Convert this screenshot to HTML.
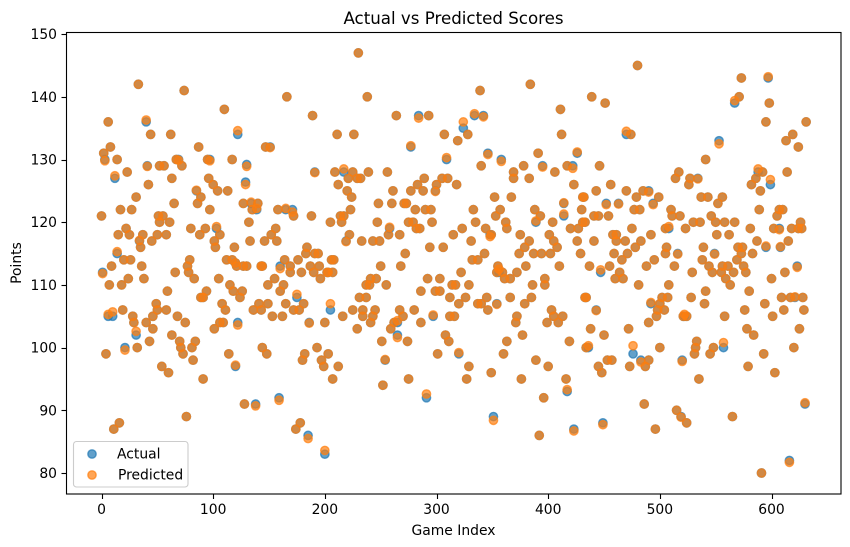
<!DOCTYPE html>
<html lang="en">
<head>
<meta charset="utf-8">
<title>Actual vs Predicted Scores</title>
<style>
html,body{margin:0;padding:0;background:#fff;width:850px;height:547px;overflow:hidden}
svg{display:block}
text{font-family:"DejaVu Sans","Liberation Sans",sans-serif;fill:#000}
</style>
</head>
<body>
<svg id="chart" xmlns="http://www.w3.org/2000/svg" width="850" height="547" viewBox="0 0 850 547">
<text x="453.5" y="24" font-size="16.67" text-anchor="middle">Actual vs Predicted Scores</text>
<g id="marks"></g>
<rect x="66.5" y="32.5" width="774.5" height="461.5" fill="none" stroke="#000" stroke-width="1.1"/>
<g id="x-axis"></g>
<g id="y-axis"></g>
<text x="453.5" y="535" font-size="13.89" text-anchor="middle">Game Index</text>
<text transform="translate(21,263) rotate(-90)" font-size="13.89" text-anchor="middle">Points</text>
<g>
<rect x="73.5" y="441.5" width="114.5" height="45.5" rx="3" fill="#fff" fill-opacity="0.8" stroke="#ccc" stroke-width="1.1"/>
<circle cx="92" cy="454" r="4.17" fill="#1f77b4" fill-opacity="0.7" stroke="#1f77b4" stroke-opacity="0.7" stroke-width="1.39"/>
<text x="117" y="458.5" font-size="13.89">Actual</text>
<circle cx="92" cy="475" r="4.17" fill="#ff7f0e" fill-opacity="0.7" stroke="#ff7f0e" stroke-opacity="0.7" stroke-width="1.39"/>
<text x="118" y="479.5" font-size="13.89">Predicted</text>
</g>
</svg>
<script>
const games = [
33,74,110,166,189,6,40,44,62,122,
8,2,3,14,87,147,151,41,52,56,
67,69,72,95,97,117,130,191,12,23,
63,42,96,100,104,113,129,85,89,86,
31,65,17,27,0,97,127,134,140,135,
139,158,165,171,172,188,51,55,52,61,
132,22,15,25,37,50,58,80,93,88,
103,106,101,102,119,34,45,35,133,146,
152,156,157,14,20,26,9,36,79,77,
112,117,120,127,130,144,160,164,169,176,
184,183,191,194,187,195,206,208,
1,7,18,24,38,66,78,83,105,121,
143,169,179,190,196,202,115,118,126,124,
149,155,163,160,175,59,94,91,89,49,
50,46,58,19,6,10,28,29,40,46,
31,43,63,68,75,70,71,73,81,84,
82,108,111,101,106,109,122,136,141,143,
149,153,162,165,172,177,181,186,200,205,
4,21,32,54,60,91,114,120,144,148,
193,182,180,197,199,203,207,128,138,159,
76,16,11,178,174,185,200,212,
230,238,264,284,293,211,226,307,319,328,
334,342,339,324,384,411,412,277,309,346,
358,391,426,340,378,395,406,417,422,369,
369,383,423,209,217,225,239,256,221,229,
232,212,220,224,261,277,283,289,288,305,
310,300,299,318,248,260,271,273,223,214,
217,205,215,281,290,295,247,258,275,279,
296,282,285,257,267,222,219,233,243,249,
294,306,272,315,323,331,335,344,349,348,
333,352,367,357,353,362,363,375,383,379,
374,387,394,402,388,393,389,404,401,405,
408,414,414,420,427,426,430,431,431,429,
332,337,343,250,268,355,380,410,203,207,
237,241,246,255,240,231,237,225,216,234,
234,245,243,241,229,251,259,265,274,262,
265,267,270,280,286,297,286,292,303,299,
303,312,314,317,329,322,320,326,312,316,
337,340,345,354,346,354,359,356,361,366,
372,386,397,397,366,385,379,372,371,377,
363,360,403,405,399,409,413,419,433,434,
308,311,301,320,254,275,252,291,329,327,
349,389,400,376,416,417,396,351,392,423,
480,573,597,439,451,571,567,598,595,631,
619,613,624,470,474,553,541,446,517,514,
527,526,534,456,443,470,485,490,499,432,
479,452,463,494,537,543,556,552,477,482,
510,511,518,441,445,454,433,546,550,530,
536,558,567,505,508,523,475,581,602,607,
618,624,627,626,589,605,607,610,582,586,
590,588,592,599,614,458,461,461,469,441,
492,483,478,551,562,587,615,570,574,595,
608,539,506,505,516,549,471,466,459,495,
538,573,583,569,437,455,488,513,544,556,
561,575,623,447,464,460,467,481,508,529,
547,555,566,577,559,563,600,612,434,443,
438,450,472,492,500,502,507,498,504,497,
490,528,541,540,522,524,521,558,576,580,
594,609,617,621,628,611,629,601,578,584,
625,436,500,533,532,531,548,545,557,476,
453,457,445,448,473,483,487,490,520,593,
620,579,603,535,486,496,515,519,524,449,
565,630,591,616
];
const actualPoints = [
142,141,138,140,137,136,136,134,134,134,
132,131,130,130,132,132,132,129,129,129,
130,130,129,130,130,130,129.2,128,127,128,
127,126,127,126,125,125,126.4,125,124,123,
124,123,122,122,121,122,123,123,123,122,
122,122,122,122,121,121,121,121,120,120,
120,119,118,118,118,118,118,119,119,118,
119,118,117,116,116,117,117,116,117,117,
118,119,117,115,114,114,113,113,114,113,
114,114,113.5,113,113,113,113,114,113,114,
116,115,115,115,113,113,114,114,
112,110,110,111,111,112,112,111,111,113,
113,112,112,112,111,112,110,109,109,108,
110,111,110,109,108,109,109,108,108,107,
106,105,106,106,105,105,105,104,104,103,
102,101,102,105,104,101,100,99,100,101,
98,107,106,103,104,104,104,106,107,106,
107,105,105,107,106,106,107,104,104,106,
99,100,100,97,96,95,99,97,100,99,
100,99,98,98,97,99,95,91,91,92,
89,88,87,88,87,86,83,97,
147,140,137,137,137,134,134,134,133,134,
137,137,141,135,142,138,134,132,130,131,
130,131,131,129,129,129,128,129,129,128,
127,127,126,128,128,128,128,128,127,127,
127,126,125,124,125,125,126,127,125,127,
127,126,125,126,123,123,123,123,122,121,
121,120,120,122,122,122,120,119,120,120,
120,119,119,118,118,118,117,117,117,117,
116,116,115,118,119,117,120,119,118,118,
122,124,124,122,121,120,119,118,117,116,
115,115,115,115,122,121,120,120,118,117,
116,123,121,119,119,117,122,124,120,115,
114,114,115,113,113,113,113,113,112,112,
110,111,111,110,110,108,108,106,105,106,
105,106,105,104,103,101,103,102,101,104,
104,106,105,106,104,105,109,111,111,109,
109,108,110,110,110,112,107,108,105,105,
107,107,108,107,106,112,112,112,111,111,
112,110,111,110,108,108,107,105,104,102,
101,99,106,105,104,104,105,101,108,100,
102,101,99,99,98,95,94,92,97,95,
96,98,97,95,95,93,92,89,86,87,
145,143,143,140,139,140,139,139,136,136,
134,133,132,134,134,133,130,129,128,127,
127,126,127,126,125,125,125,125,124,124,
124,123,123,123,124,124,124,123,122,122,
122,121,121,121,121,121,120,121,120,120,
120,120,120,119,119,119,119,119,119,119,
119,119,119,120,122,121,122,122,126,127,
125,128,128,126,128,118,118,117,117,117,
118,117,116,118,118,117,117,116,116,116,
116,116,116,115,115,115,115,114,115,114,
114,115,115,114,113,113,113,113,113,113,
113,113,113,112,112,111,111,110,110,112,
112,112,112,112,111,110,111,112,108,106,
103,102,103,107,107,108,108,106,106,105,
104,108,109,107,105,105,105,105,106,109,
107,108,108,108,108,106,106,105,103,102,
103,100,100,101,100,99,100,99,100,99,
98,98,97,96,97,98,97,98,98,99,
100,97,96,95,91,87,90,89,88,88,
89,91,80,82
];
const predictedPoints = [
142,141,138,140,137,136,136.3,134,134,134.6,
132,131,129.8,130,132,132,131.9,128.9,129,129,
130,129.9,129,130,129.8,130,128.9,127.9,127.4,128,
127,126,127,126,125,125,126,125.1,124,123,
124,123,122,122,121,122,123,123.2,123,122,
122.2,122,122.2,121.6,121,121,121,121,120,120,
120,119,118,118,118,118,118,119,119,118,
119.3,118,117,116,116,117.1,117,116,117,117,
118,119,117,115.3,114,114,113,113,114,113,
114,114,113.5,113,113,113,112.6,114,113,114,
116,115,115,115,113,113,114,114,
111.8,110,110,111,111,112,112,111,111,113,
113,112,112,112,111,112,110,109,109,108,
110,111,110,109,108.5,109,109,108,108,107,
106,105,106,106,105.3,105.7,105,104,104,103,
102.6,101,102,105,104,101,100,99,100,101,
98,107,106,103,104,104,103.6,106,107,106,
107,105,105,107,106,106,107,103.9,104,107,
99,99.6,100,97,96,95,99,97.2,100,99,
100,99,98,98,97,99,95,91,90.7,91.6,
89,88,87,88,87,85.5,83.6,97,
147,140,137,136.6,137,134,134,134,133,134,
137.3,136.8,141,136,142,138,134,132.2,130.3,130.8,
129.7,131,131.2,129,129,128.8,128,129,128.6,128,
127,127,126,128,128.5,128,128,128,127,127,
127,126,125,124,125,125,126,127,125,127,
127,126,124.9,126,123,123,123,123,122,121,
121,120,120,122,122,122,120,119.2,120,120,
120,119,119,118,118,118,116.9,117,117,117,
116,116,115,118,119,117,120,119,118,117.7,
122,124,124,122,121,120,119,118,117,116,
115,115,115,115,122,121,120.2,120,118,117,
116,123.1,121.3,119,119,117,122,124,120,115,
114,114,115,113,113,113,113,113,112,112,
110,111,111,110,110,108,108,106,105,106,
105,106,105,104,103,101,103,101.6,101,104,
104.3,106,105,106,104,105.2,109,111,111,109,
109,108,110,110,110,112,107,108,105,105,
107,107,108,106.9,106,112,112,112.5,111,111,
112,110,111,110,108,108,107,105,104,102,
101,99,106,105,104,104,105,101,108,100,
102,101,99,99.2,98.1,95,94,92.6,97,95,
96,98,97,95,95,93.3,92,88.4,86,86.7,
145,143,143.2,140,139,140,139.4,139,136,136,
134,133,132,134.5,134,132.5,130,129,128,127,
127,126,126.9,126,125,125,125,124.8,124,124,
124,122.8,122.9,122.8,124,124,124,123,122,122,
122,121,121,121,121,121,120,121,120,120,
120,120,120,119,119.3,119,119,119,119,118.8,
119,119,119,120,122,121,122,122,126,127,
125,128.5,128,126.8,128,118,118,117,117,117,
118,117,116,118,118,117,117,116,116,116.2,
116.1,116,116,115,114.9,114.9,115,114,115,114,
114,115,115,114,113,113,113,113,113,113,
113,113,112.8,112.4,112,111,111,110,110,112,
112,112,112,112,111,110,111,112,108,105.9,
103,102,103,107.2,107,108,108,106,106,105,
104,108,109,107,105.3,105,105,105,106,109,
107,108,108,108.1,108,106,106,105,103,102,
103,100.3,100,101,100,99,100,99,100.8,100.3,
98,98,97,96,97,97.7,97,98,97.8,99,
100,97,96,95,91,87,90,88.9,88,87.7,
89,91.2,80,81.7
];
const xTickValues = [0,100,200,300,400,500,600];
const yTickValues = [80,90,100,110,120,130,140,150];

const NS = 'http://www.w3.org/2000/svg';
function xScale(v){ return 101.5 + v * 1.1167; }
function yScale(v){ return 473 - (v - 80) * 6.27; }

const marks = document.getElementById('marks');
function drawSeries(values, color, seriesName){
  const group = document.createElementNS(NS, 'g');
  
  
  const n = Math.min(games.length, values.length);
  for (let i = 0; i < n; i++){
    const c = document.createElementNS(NS, 'circle');
    c.setAttribute('cx', xScale(games[i]).toFixed(2));
    c.setAttribute('cy', yScale(values[i]).toFixed(2));
    c.setAttribute('r', '4.17');
    c.setAttribute('fill', color);
    c.setAttribute('fill-opacity', '0.7');
    c.setAttribute('stroke', color);
    c.setAttribute('stroke-opacity', '0.7');
    c.setAttribute('stroke-width', '1.39');
    
    
    group.appendChild(c);
  }
  marks.appendChild(group);
}
drawSeries(actualPoints, '#1f77b4', 'actual-series');
drawSeries(predictedPoints, '#ff7f0e', 'predicted-series');

const xAxis = document.getElementById('x-axis');
xTickValues.forEach(function(v){
  const px = Math.round(xScale(v)) + 0.5;
  const t = document.createElementNS(NS, 'line');
  t.setAttribute('x1', px); t.setAttribute('x2', px);
  t.setAttribute('y1', 494); t.setAttribute('y2', 499);
  t.setAttribute('stroke', '#000'); t.setAttribute('stroke-width', '1.1');
  
  
  xAxis.appendChild(t);
  const l = document.createElementNS(NS, 'text');
  l.setAttribute('x', xScale(v)); l.setAttribute('y', 514);
  l.setAttribute('font-size', '13.89'); l.setAttribute('text-anchor', 'middle');
  
  
  l.textContent = v;
  xAxis.appendChild(l);
});

const yAxis = document.getElementById('y-axis');
yTickValues.forEach(function(v){
  const py = Math.round(yScale(v)) + 0.5;
  const t = document.createElementNS(NS, 'line');
  t.setAttribute('x1', 61.5); t.setAttribute('x2', 66.5);
  t.setAttribute('y1', py); t.setAttribute('y2', py);
  t.setAttribute('stroke', '#000'); t.setAttribute('stroke-width', '1.1');
  
  
  yAxis.appendChild(t);
  const l = document.createElementNS(NS, 'text');
  l.setAttribute('x', 57); l.setAttribute('y', yScale(v) + 5);
  l.setAttribute('font-size', '13.89'); l.setAttribute('text-anchor', 'end');
  
  
  l.textContent = v;
  yAxis.appendChild(l);
});
</script>
</body>
</html>
